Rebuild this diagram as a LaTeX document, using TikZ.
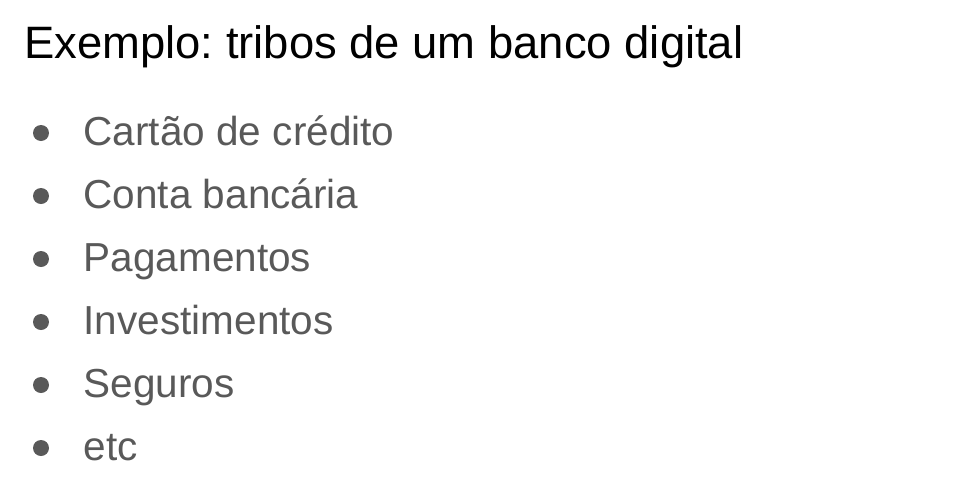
\documentclass[tikz,border=0pt]{standalone}
\usepackage{fontspec}
\setmainfont{Liberation Sans}
\frenchspacing
\definecolor{bodygrey}{HTML}{595959}
\begin{document}
\begin{tikzpicture}[x=1pt,y=-1pt,
  title/.style={anchor=base west,inner sep=0pt,font=\fontsize{45.4}{54}\selectfont,text=black},
  item/.style={anchor=base west,inner sep=0pt,font=\fontsize{40.5}{48}\selectfont,text=bodygrey},
  dot/.style={circle,fill=bodygrey,inner sep=0pt,minimum size=16pt}]
\useasboundingbox (0,0) rectangle (968,485);
\node[title] (t) at (24,58) {Exemplo: tribos de um banco digital};
\foreach \i/\txt in {0/Cartão de crédito,1/Conta bancária,2/Pagamentos,3/Investimentos,4/Seguros,5/etc}{
  \node[item] (i\i) at (83.5,145.7+63*\i) {\txt};
  \node[dot] (b\i) at (41,133+63*\i) {};
}
\end{tikzpicture}
\end{document}
